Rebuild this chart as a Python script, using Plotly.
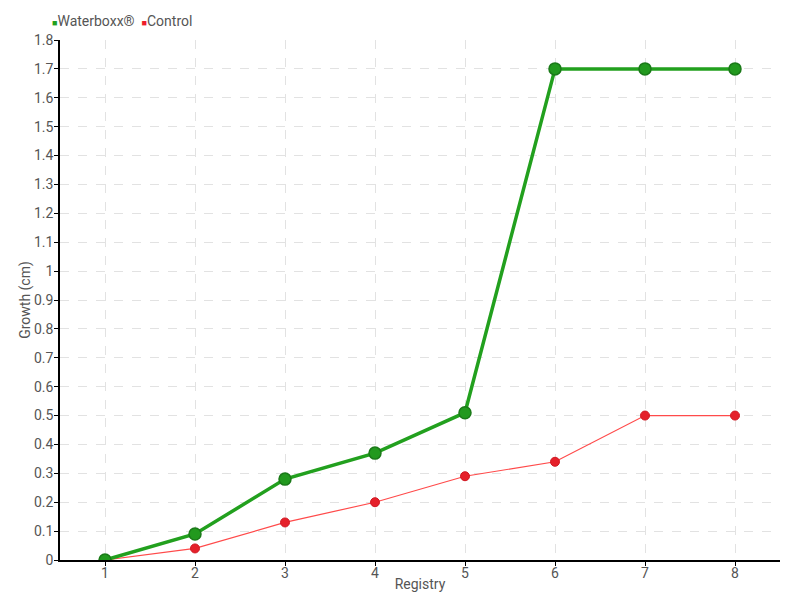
import plotly.graph_objects as go

registry = [1, 2, 3, 4, 5, 6, 7, 8]
waterboxx = [0, 0.09, 0.28, 0.37, 0.51, 1.7, 1.7, 1.7]
control = [0, 0.04, 0.13, 0.2, 0.29, 0.34, 0.5, 0.5]
y_ticks = [round(i * 0.1, 1) for i in range(19)]
y_tick_labels = ["0", "0.1", "0.2", "0.3", "0.4", "0.5", "0.6", "0.7", "0.8", "0.9",
                 "1", "1.1", "1.2", "1.3", "1.4", "1.5", "1.6", "1.7", "1.8"]
series_names = ["Waterboxx®", "Control"]
series_colors = ["#22a01e", "#ee1c2a"]

FONT = "Roboto, sans-serif"

fig = go.Figure()
fig.add_trace(go.Scatter(
    x=registry, y=control, mode="lines+markers", name=series_names[1],
    line=dict(color="#ff4a4a", width=1.2),
    marker=dict(color="#e5202a", size=9, line=dict(color="#d01822", width=1)),
    showlegend=False))
fig.add_trace(go.Scatter(
    x=registry, y=waterboxx, mode="lines+markers", name=series_names[0],
    line=dict(color="#22a01e", width=3.5),
    marker=dict(color="#22991e", size=12, line=dict(color="#1a7a18", width=1.5)),
    showlegend=False))

legend_text = "  ".join(
    f'<span style="color:{c};font-size:9px">■</span>{n}'
    for n, c in zip(series_names, series_colors))
fig.add_annotation(text=legend_text, xref="paper", yref="paper", x=-0.014, y=1.036,
                   xanchor="left", yanchor="middle", showarrow=False,
                   font=dict(family=FONT, size=14, color="#555555"))

# page body has an 8px margin: figure spans screen 8..792 x 8..592
fig.update_layout(
    width=784, height=584,
    margin=dict(l=52, r=12, t=32, b=32),
    plot_bgcolor="white", paper_bgcolor="white",
    font=dict(family=FONT, color="#555555", size=14),
    showlegend=False,
    xaxis=dict(range=[0.5, 8.5], tickvals=registry, ticktext=[str(r) for r in registry],
               showline=True, linecolor="black", linewidth=1.5,
               ticks="outside", ticklen=4, tickcolor="black",
               ticklabelstandoff=-5, tickfont=dict(size=14, color="#555555"),
               showgrid=True, gridcolor="#e2e2e2", griddash="dash", zeroline=False,
               automargin=False,
               title=dict(text="Registry", standoff=0, font=dict(size=14, color="#555555"))),
    yaxis=dict(range=[0, 1.8], tickvals=y_ticks, ticktext=y_tick_labels,
               showline=True, linecolor="black", linewidth=1.5,
               ticks="outside", ticklen=4, tickcolor="black",
               ticklabelstandoff=-2, tickfont=dict(size=14, color="#555555"),
               showgrid=True, gridcolor="#e2e2e2", griddash="dash", zeroline=False,
               automargin=False,
               title=dict(text="Growth (cm)", standoff=0, font=dict(size=14, color="#555555"))),
)

fig.write_html("out.html")
